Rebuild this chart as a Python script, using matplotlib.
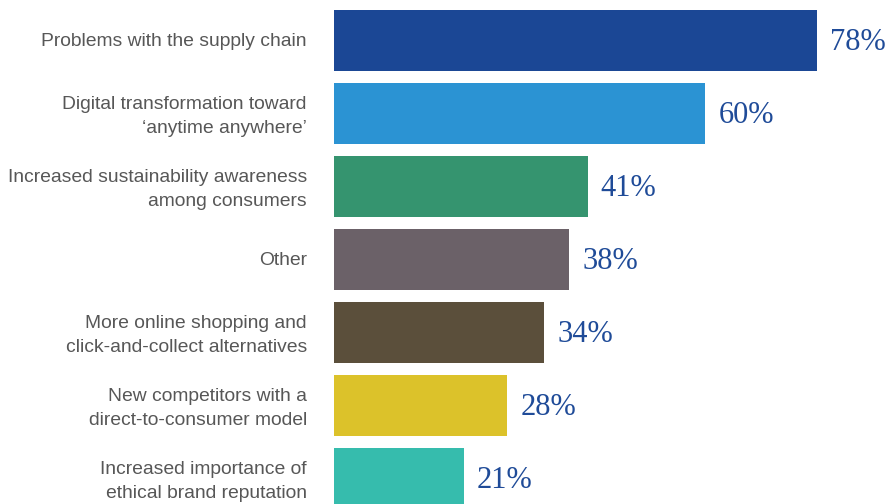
import matplotlib
matplotlib.use("Agg")
import matplotlib.pyplot as plt

categories = [
    "Problems with the supply chain",
    "Digital transformation toward\n\u2018anytime anywhere\u2019",
    "Increased sustainability awareness\namong consumers",
    "Other",
    "More online shopping and\nclick-and-collect alternatives",
    "New competitors with a\ndirect-to-consumer model",
    "Increased importance of\nethical brand reputation",
]
values = [78, 60, 41, 38, 34, 28, 21]
colors = ["#1b4795", "#2b93d3", "#35946f", "#6b6168", "#5b4f3b", "#dcc22a", "#36bcad"]

fig = plt.figure(figsize=(8.91, 5.04), dpi=100)
ax = fig.add_axes([334 / 891, 0, 557 / 891, 1])

pos = list(range(len(values)))
ax.barh(pos, values, height=0.836, color=colors)

for y, v in zip(pos, values):
    ax.text(v + 2.1, y + 0.03, f"{v}%", va="center", ha="left",
            fontsize=22, color="#1f4b98", family="Liberation Serif")

# category labels to the left of the bars
for y, lab in zip(pos, categories):
    shift = 0.04 if "\n" in lab else 0.01
    ax.text(-4.4, y + shift, lab, va="center", ha="right", fontsize=13.9,
            color="#575757", family="Liberation Sans", linespacing=1.52,
            clip_on=False)

ax.set_xlim(0, 90)
ax.set_ylim(6.349, -0.555)
ax.axis("off")

fig.savefig("out.png", dpi=100)
